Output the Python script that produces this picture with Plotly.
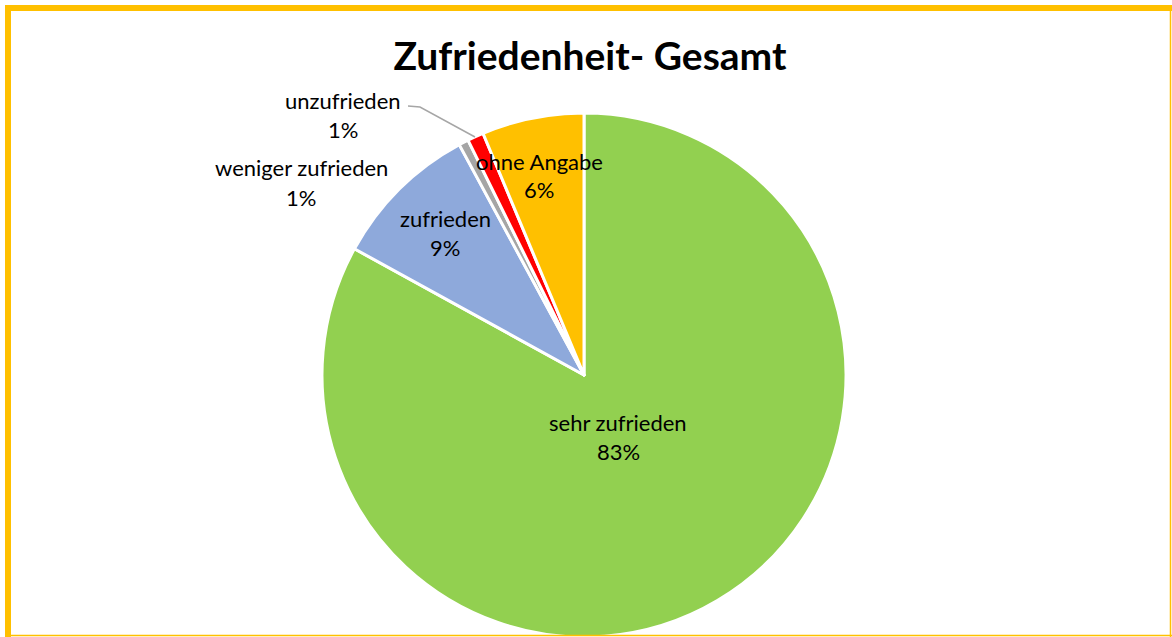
import plotly.graph_objects as go

# Zufriedenheit - Gesamt (Anteile in %)
labels = ["sehr zufrieden", "zufrieden", "weniger zufrieden", "unzufrieden", "ohne Angabe"]
values = [83.0, 9.1, 0.6, 1.0, 6.3]
colors = ["#92D050", "#8EA9DB", "#A5A5A5", "#FF0000", "#FFC000"]

# label positions in pixels (x, y of first line from top)
label_pos = [(618, 422), (445, 218), (301, 168), (343, 100), (539, 161)]
LINE_GAP = 29

W, H = 1172, 637
FONT = "Lato, Carlito, Calibri, sans-serif"

fig = go.Figure()

# pie centre (584, 375), radius 262
cx, cy, r = 584, 375, 262
fig.add_trace(go.Pie(
    labels=labels,
    values=values,
    sort=False,
    direction="clockwise",
    rotation=0,
    marker=dict(colors=colors, line=dict(color="white", width=3)),
    textinfo="none",
    hoverinfo="label+percent",
    showlegend=False,
    domain=dict(x=[(cx - r) / W, (cx + r) / W], y=[(H - cy - r) / H, (H - cy + r) / H]),
))


def px2paper(x, y):
    return x / W, 1 - y / H


total = sum(values)
annotations = []
for lab, val, (px, py) in zip(labels, values, label_pos):
    for txt, yy in [(lab, py), (f"{round(val / total * 100)}%", py + LINE_GAP)]:
        a, b = px2paper(px, yy)
        annotations.append(dict(
            x=a, y=b, xref="paper", yref="paper", xanchor="center", yanchor="middle",
            text=txt, showarrow=False,
            font=dict(family=FONT, size=22, color="#000000"),
        ))

shapes = []
# leader line for "unzufrieden"
pts = [px2paper(408, 106), px2paper(420, 107), px2paper(475, 137)]
path = "M " + " L ".join(f"{a},{b}" for a, b in pts)
shapes.append(dict(type="path", xref="paper", yref="paper", path=path,
                   line=dict(color="#A6A6A6", width=1.5)))

# frame: thick top/left, thin right/bottom
border = "#FFC000"
for (x0, y0, x1, y1, w) in [(5, 8, 1172, 8, 6), (8, 5, 8, 637, 6),
                            (1170.5, 5, 1170.5, 637, 1.5), (5, 635.5, 1172, 635.5, 1.5)]:
    a0, b0 = px2paper(x0, y0)
    a1, b1 = px2paper(x1, y1)
    shapes.append(dict(type="line", xref="paper", yref="paper", x0=a0, y0=b0, x1=a1, y1=b1,
                       line=dict(color=border, width=w)))

fig.update_layout(
    width=W, height=H,
    title=dict(text="<b>Zufriedenheit- Gesamt</b>", x=590 / W, xanchor="center",
               y=1 - 56 / H, yanchor="middle",
               font=dict(family=FONT, size=39, color="#000000")),
    margin=dict(l=0, r=0, t=0, b=0),
    paper_bgcolor="white",
    plot_bgcolor="white",
    annotations=annotations,
    shapes=shapes,
)

fig.write_html("out.html", config={"displayModeBar": False},
               post_script="document.body.style.margin='0';document.body.style.overflow='hidden';")
